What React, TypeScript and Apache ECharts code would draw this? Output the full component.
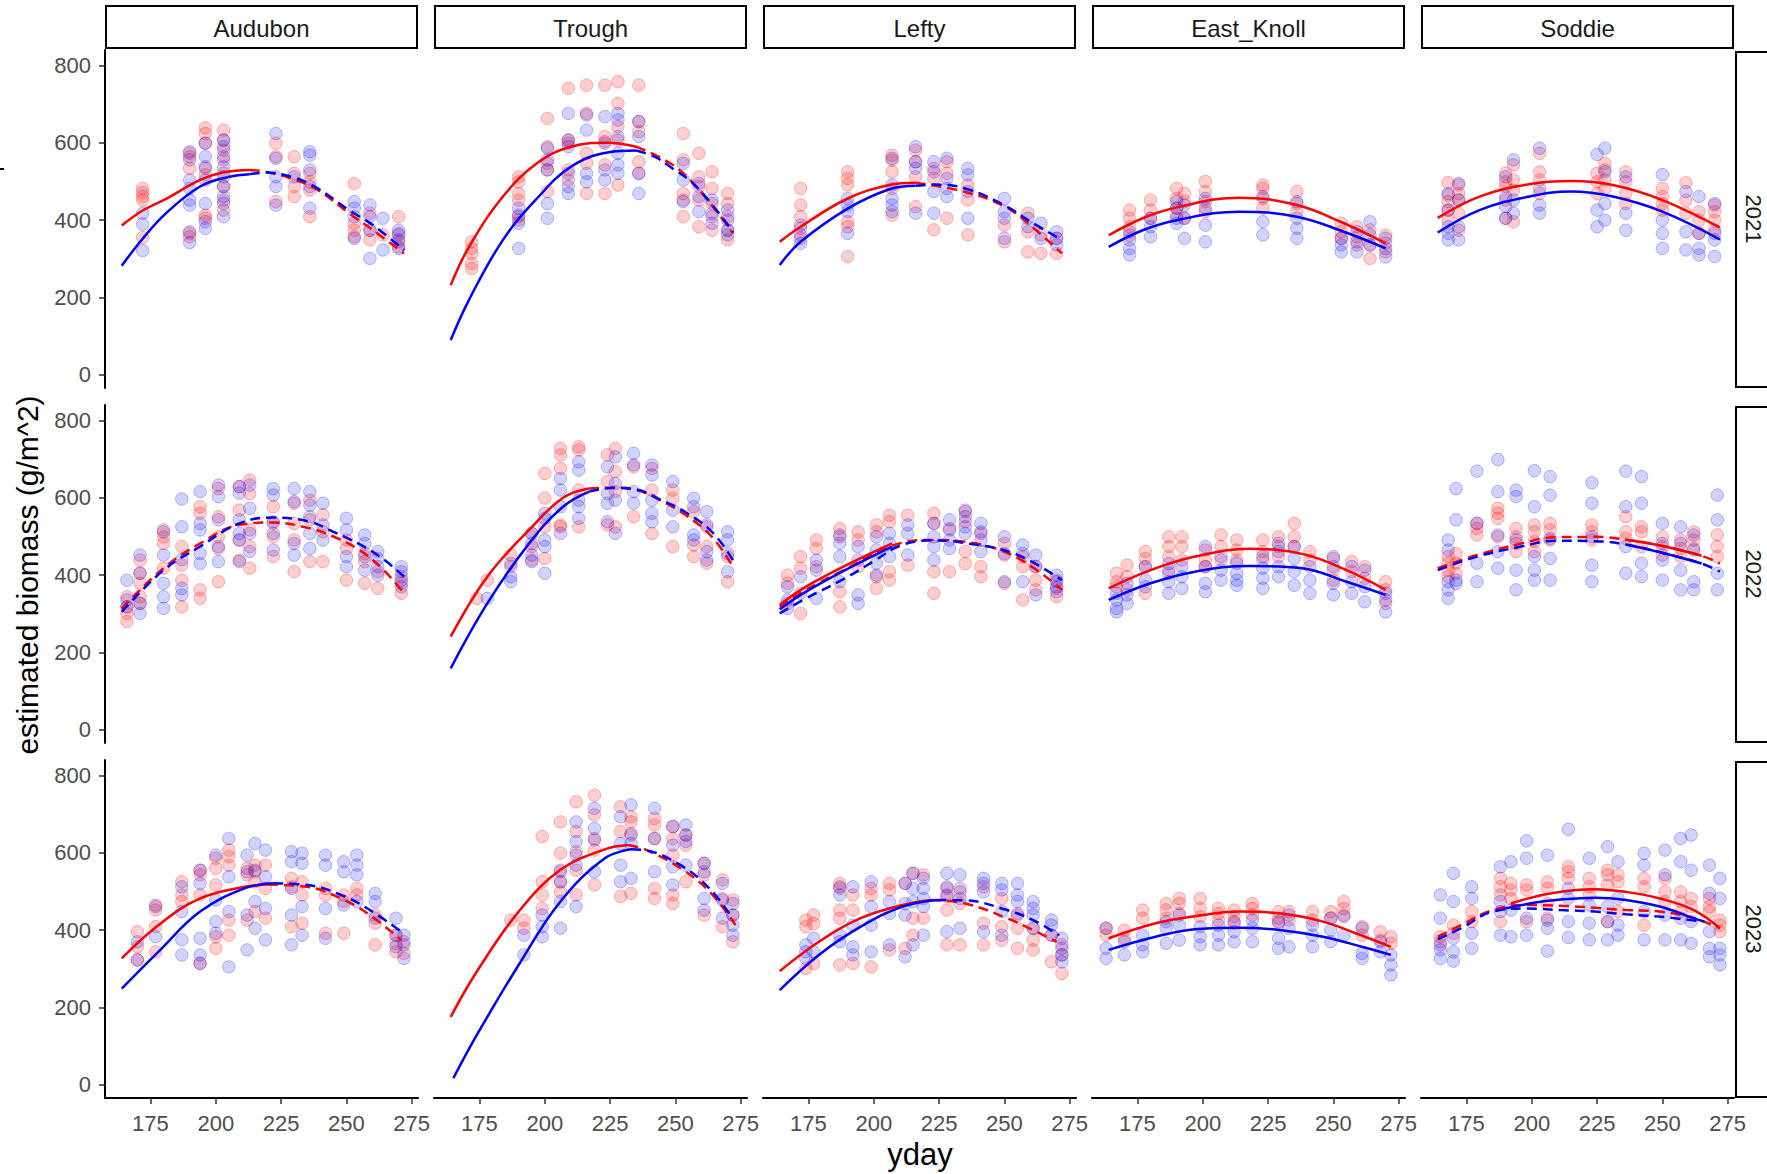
import React, { useEffect, useRef } from "react";
import * as echarts from "echarts";

// ---------------- DATA ----------------
const sites = ["Audubon", "Trough", "Lefty", "East_Knoll", "Soddie"];
const years = ["2021", "2022", "2023"];
const xTicks = [175, 200, 225, 250, 275];
const yTicks = [0, 200, 400, 600, 800];
const xTitle = "yday";
const yTitle = "estimated biomass (g/m^2)";

// points: [yday, [values...]]
const audubon2021Red = [[172,[482,471,461,452,355]],[190,[573,564,534,366,357]],[196,[639,624,599,534,517,413,405]],[203,[633,607,581,556,521,487,452,426]],[223,[599,564,448]],[230,[564,521,487,461]],[236,[521,499,478,409]],[253,[495,392,374,357]],[259,[418,374,349]],[264,[362]],[270,[409,366,344,331]]];
const audubon2021Blue = [[172,[418,390,321]],[190,[577,556,504,482,452,439,370,342]],[196,[599,564,538,504,443,396,379]],[203,[607,590,564,538,512,487,461,443,409]],[223,[624,560,512,487,439]],[230,[512]],[236,[577,568,530,487,431]],[253,[448,431,409,353]],[259,[439,409,374,301]],[264,[405,323]],[270,[374,362,349,327]]];
const audubon2021Lines = [
  ["red","dashed",[[213,530],[220,524],[230,505],[239,478],[251,418],[260,375],[272,314]]],
  ["red","solid",[[164,386],[172,425],[181,455],[194,504],[203,524],[213,530]]],
  ["blue","dashed",[[213,519],[219,523],[230,510],[239,482],[251,426],[260,388],[272,323]]],
  ["blue","solid",[[164,282],[172,352],[181,418],[194,487],[205,512],[213,519]]],
];

const trough2021Red = [[172,[344,327,314,288,275]],[190,[512,499,469,452,409,400]],[201,[663,590,547,530,474]],[209,[741,607,599,530,504]],[216,[749,676,573,547,469]],[223,[749,616,603,543,469]],[228,[758,702,642,607,491]],[236,[749,655,629,551,521]],[253,[624,556,469,452,409]],[259,[573,512,487,452,383]],[264,[525,482,443,409,374]],[270,[469,443,409,374,349]]];
const trough2021Blue = [[190,[431,413,392,327]],[201,[586,556,530,443,405]],[209,[676,607,590,521,487,469]],[216,[672,633,521,499]],[223,[668,599,530,504]],[228,[676,659,616,573,543,521]],[236,[655,616,521,469]],[253,[547,504,448]],[259,[495,461,422]],[264,[452,418,392]],[270,[426,400,374,362]]];
const trough2021Lines = [
  ["red","dashed",[[235,590],[248,547],[258,487],[272,366]]],
  ["red","solid",[[164,232],[171,331],[184,461],[197,547],[210,590],[224,600],[235,590]]],
  ["blue","dashed",[[235,580],[242,564],[248,538],[258,487],[272,370]]],
  ["blue","solid",[[164,90],[171,194],[184,349],[197,456],[210,538],[224,575],[235,580]]],
];

const lefty2021Red = [[172,[482,439,409,379,353]],[190,[525,508,491,396,383,306]],[207,[568,555,525,482,413]],[216,[581,551,512,435]],[223,[534,508,375]],[228,[551,521,405]],[236,[491,452,362]],[250,[387,344]],[259,[418,370,318]],[264,[362,314]],[270,[353,314]]];
const lefty2021Blue = [[172,[387,362,340]],[190,[456,439,422,366]],[207,[560,491,456,439,422]],[216,[590,551,534,418]],[223,[551,525,474,418]],[228,[560,508,482,461]],[236,[534,517,474,405]],[250,[456,422,405,353]],[259,[405,383]],[264,[392,353]],[270,[370,353,336]]];
const lefty2021Lines = [
  ["red","dashed",[[216,497],[235,473],[250,436],[259,392],[272,314]]],
  ["red","solid",[[164,344],[172,383],[190,456],[206,491],[216,497]]],
  ["blue","dashed",[[216,489],[223,492],[235,482],[251,435],[259,400],[271,353]]],
  ["blue","solid",[[164,284],[172,344],[190,430],[206,480],[216,489]]],
];

const eastKnoll2021Red = [[172,[426,405,383,361]],[180,[452,426,405]],[190,[482,456,431,413]],[193,[469,448,405]],[201,[500,474,448,422]],[223,[491,482,456,431]],[236,[474,443,422]],[253,[392,370,353]],[259,[383,357,336]],[264,[375,336,301]],[270,[361,340,318]]];
const eastKnoll2021Blue = [[172,[370,349,327,310]],[180,[405,383,357]],[190,[448,431,405,392]],[193,[439,405,353]],[201,[456,431,387,344]],[223,[461,396,362]],[236,[448,405,379,353]],[253,[353,336,318]],[259,[370,344,318]],[264,[396,362,336]],[270,[353,327,305]]];
const eastKnoll2021Lines = [
  ["red","solid",[[164,361],[177,405],[190,433],[214,458],[236,439],[254,392],[270,340]]],
  ["blue","solid",[[164,331],[177,374],[190,400],[214,422],[236,409],[254,370],[270,327]]],
];

const soddie2021Red = [[168,[497,465,448,426,400]],[172,[491,469,452,418,374]],[190,[521,499,487,452,405]],[193,[543,504,478,396]],[203,[573,525,504,469]],[225,[521,499,469]],[228,[547,530,504,482]],[236,[525,499,469,443]],[250,[482,461,443,426]],[259,[497,452,418]],[264,[422,400,366]],[270,[439,422,400,374]]];
const soddie2021Blue = [[168,[469,426,383,366,349]],[172,[495,452,383,349]],[190,[512,461,435,405]],[193,[556,452,418]],[203,[586,482,439,418]],[225,[570,426,383]],[228,[586,525,443,400]],[236,[512,418,374]],[250,[518,400,366,327]],[259,[474,370,323]],[264,[461,366,327,310]],[270,[443,366,349,306]]];
const soddie2021Lines = [
  ["red","solid",[[164,406],[180,461],[199,493],[215,501],[231,491],[250,452],[272,381]]],
  ["blue","solid",[[164,368],[180,426],[199,461],[215,474],[231,461],[250,422],[272,350]]],
];

const audubon2022Red = [[166,[344,318,301,280]],[171,[439,405,379,344,327]],[180,[517,499,482,418]],[187,[474,426,387,318]],[194,[577,560,362,340]],[201,[624,551,499,469,383]],[209,[629,568,491,439]],[213,[646,611,517,474,418]],[222,[577,534,499,448]],[230,[586,534,491,409]],[236,[594,543,435]],[241,[556,512,435]],[250,[491,469,387]],[257,[456,435,379]],[262,[409,366]],[271,[396,379,353]]];
const audubon2022Blue = [[166,[387,336,318]],[171,[452,405,327,301]],[180,[512,452,379,344,314]],[187,[597,525,440,366,349]],[194,[616,534,517,456,430]],[201,[633,603,543,474,435]],[209,[629,612,543,508,491,435]],[213,[633,573,508,461]],[222,[624,607,538,508,465]],[230,[624,590,482,452]],[236,[616,581,551,508,469]],[241,[586,530,491]],[250,[547,517,448,422]],[257,[504,482,448,413]],[262,[461,443,422,400]],[271,[422,409,387,370]]];
const audubon2022Lines = [
  ["red","dashed",[[164,314],[180,418],[194,482],[209,530],[222,536],[236,521],[245,500],[255,465],[264,415],[272,353]]],
  ["blue","dashed",[[164,305],[180,413],[194,474],[209,534],[222,549],[236,538],[245,512],[255,480],[264,442],[272,396]]],
];

const trough2022Red = [[174,[340]],[178,[387]],[187,[452,422]],[195,[508,474,439]],[200,[663,599,525,443]],[206,[728,711,676,530,525]],[213,[732,724,620,525]],[224,[711,642,530]],[227,[728,668,616,525]],[234,[680,551]],[241,[676,620,508]],[249,[620,599,474]],[257,[564,478,448]],[262,[525,474,431]],[270,[448,383]]];
const trough2022Blue = [[178,[340]],[187,[430,396,383]],[195,[508,482,452,435]],[200,[560,547,491,474,405]],[206,[650,620,577,508]],[213,[693,672,594,577,547]],[224,[680,611,586,538]],[227,[706,637,594,508]],[234,[715,685,616,586]],[241,[685,659,594,560,538]],[249,[642,568,525]],[257,[599,577,504,491]],[262,[564,530,461,439]],[270,[512,491,456,409]]];
const trough2022Lines = [
  ["red","dashed",[[217,624],[225,626],[235,620],[244,594],[254,555],[264,499],[272,422]]],
  ["red","solid",[[164,241],[178,396],[194,517],[207,600],[217,624]]],
  ["blue","dashed",[[217,616],[227,626],[235,622],[244,596],[254,562],[264,512],[272,439]]],
  ["blue","solid",[[164,159],[178,327],[194,482],[207,577],[217,616]]],
];

const lefty2022Red = [[167,[400,379,327]],[172,[448,418,301]],[178,[491,469,422]],[187,[521,499,357,318]],[194,[512,491,422]],[201,[530,512,396,366]],[206,[555,538,409,387]],[213,[555,426]],[223,[560,534,409,353]],[229,[521,409]],[235,[564,538,461,430]],[241,[508,422,396]],[250,[482,452,379]],[257,[448,422,336]],[262,[422,387,362]],[270,[387,366,344]]];
const lefty2022Blue = [[167,[370,336,314]],[172,[396,353]],[178,[439,413,340]],[187,[504,482,448,383]],[194,[474,439,349,327]],[201,[499,465,431,400]],[206,[508,482,448]],[213,[530,508,452]],[223,[534,499,474,439]],[229,[543,517,491,469]],[235,[568,551,525,508]],[241,[534,512,491,461]],[250,[499,456,383]],[257,[478,456,383]],[262,[452,422,349]],[270,[400,383,370,357]]];
const lefty2022Lines = [
  ["red","dashed",[[164,318],[173,358],[189,415],[207,476],[222,491],[234,487],[254,448],[272,362]]],
  ["red","solid",[[164,323],[173,366],[189,424],[207,482]]],
  ["blue","dashed",[[164,301],[173,336],[189,392],[200,436],[210,476],[222,490],[234,484],[254,455],[272,387]]],
  ["blue","solid",[[164,312],[173,353],[189,413],[207,474]]],
];

const eastKnoll2022Red = [[167,[405,383,370]],[171,[426,396,362]],[178,[461,443,422,353]],[187,[499,474,448,413]],[192,[499,474,439]],[201,[465,439,422]],[207,[504,474,439]],[213,[491,465,439]],[223,[491,461,439]],[229,[499,474,448]],[235,[534,499,474]],[241,[461,439]],[250,[443,413,387]],[257,[435,409]],[262,[422,392]],[270,[383,362,327]]];
const eastKnoll2022Blue = [[167,[353,336,314,305]],[171,[379,349,327]],[178,[422,387,370]],[187,[430,405,383,353]],[192,[422,396,366]],[201,[474,422,379,357]],[207,[448,413,387]],[213,[431,405,387,374]],[223,[448,418,392,366]],[229,[482,461,422,396]],[235,[474,443,409,374]],[241,[422,387,353]],[250,[448,422,379,349]],[257,[422,383,353]],[262,[413,370,331]],[270,[353,336,305]]];
const eastKnoll2022Lines = [
  ["red","solid",[[164,366],[180,413],[197,448],[218,468],[238,455],[255,413],[270,362]]],
  ["blue","solid",[[164,336],[180,379],[197,409],[218,424],[238,418],[255,383],[270,349]]],
];

const soddie2022Red = [[168,[448,431,413,396]],[171,[456,431,405]],[179,[534,521,504]],[187,[573,560,547,499]],[194,[521,499,482,461]],[201,[530,512,487,461]],[207,[534,517,491]],[223,[530,512,491]],[236,[551,512,495]],[242,[525,512,474]],[250,[499,474,452]],[257,[491,469,448]],[262,[512,491,469]],[271,[504,474,448]]];
const soddie2022Blue = [[168,[491,465,383,362,340]],[171,[624,543,387,379]],[179,[669,534,431,383]],[187,[699,616,504,461,418]],[194,[620,603,491,413,362]],[201,[670,577,448,413,387]],[207,[655,607,495,443,387]],[223,[639,586,499,426,383]],[236,[669,577,474,405]],[242,[655,586,431,396]],[250,[534,482,439,387]],[257,[525,482,413,362]],[262,[504,465,383,362]],[271,[607,543,405,362]]];
const soddie2022Lines = [
  ["red","dashed",[[164,418],[179,452],[196,482],[209,498],[224,499],[237,491],[251,474],[265,450],[272,430]]],
  ["red","solid",[[237,491],[251,474],[265,450]]],
  ["blue","dashed",[[164,413],[179,448],[196,474],[209,489],[224,488],[237,478],[251,456],[265,430],[272,409]]],
  ["blue","solid",[[237,478],[251,456],[265,430]]],
];

const audubon2023Red = [[170,[396,357,323]],[177,[465,452,409,344]],[187,[525,491,474]],[194,[555,543,491,314]],[200,[586,560,517,383,353]],[205,[607,590,568,426,387]],[212,[560,543,426]],[215,[568,551,525,448]],[219,[568,508,431]],[229,[534,512,409]],[233,[525,491,418]],[242,[508,491,392]],[249,[491,474,392]],[254,[508,491]],[261,[439,418,362]],[269,[387,366,344]],[272,[370,340]]];
const audubon2023Blue = [[170,[370,323]],[177,[461,383]],[187,[512,448,375,336]],[194,[555,521,379,336,314]],[200,[594,478,422,392]],[205,[637,538,448,305]],[212,[594,551,439,349]],[215,[624,555,474,405]],[219,[607,538,456,375]],[229,[603,577,508,439,362]],[233,[599,573,461,387]],[242,[594,568,456,379]],[249,[577,551,465]],[254,[594,568,543,474]],[261,[495,474,431]],[269,[431,387,357]],[272,[387,362,327]]];
const audubon2023Lines = [
  ["red","dashed",[[220,518],[235,512],[248,482],[259,439],[271,374]]],
  ["red","solid",[[164,327],[178,413],[194,482],[211,512],[220,518]]],
  ["blue","dashed",[[222,521],[235,517],[248,491],[259,452],[271,396]]],
  ["blue","solid",[[164,249],[178,344],[194,448],[211,508],[222,521]]],
];

const trough2023Red = [[187,[426]],[192,[426,405]],[199,[642,525,491,456]],[206,[680,599,551,525,499]],[212,[732,655,603,555,491]],[219,[749,698,637,607,517]],[229,[719,655,487]],[233,[693,680,650,495]],[242,[689,672,637,508,482]],[249,[668,637,594,491,469]],[254,[646,620,525]],[261,[573,543,439]],[268,[530,482,409]],[272,[478,439,370]]];
const trough2023Blue = [[192,[387,336]],[199,[439,409,383]],[206,[555,525,474,405]],[212,[680,629,594,568,461]],[219,[715,663,633,551]],[229,[693,624,568,525]],[233,[724,646,624,534]],[242,[715,637,551]],[249,[668,620,564,517]],[254,[672,646,629,568]],[261,[573,551,482,452]],[268,[521,478,431]],[272,[469,439,413,387]]];
const trough2023Lines = [
  ["red","dashed",[[232,620],[239,607],[252,560],[263,500],[273,413]]],
  ["red","solid",[[164,176],[174,293],[190,448],[206,556],[223,609],[232,620]]],
  ["blue","dashed",[[233,609],[238,607],[252,568],[263,508],[272,430]]],
  ["blue","solid",[[165,17],[174,129],[190,310],[206,474],[223,586],[233,609]]],
];

const lefty2023Red = [[174,[426,409,301]],[177,[439,417,314]],[187,[521,508,452,431,310]],[192,[491,452,314]],[199,[508,491,305]],[206,[521,504,349]],[212,[521,353]],[215,[547,431,387]],[219,[543,431]],[228,[508,487,452,362]],[233,[499,469,362]],[242,[512,418,362]],[249,[482,409,374]],[255,[443,405,353]],[261,[405,374,349]],[268,[387,318]],[272,[362,336,288]]];
const lefty2023Blue = [[174,[362,344,327]],[177,[379,344]],[187,[512,491,387,370]],[192,[512,413,357,336]],[199,[525,461,413,344]],[206,[474,443,362]],[212,[521,469,439,331]],[215,[547,508,474,362]],[219,[534,508,482,461,387]],[228,[547,512,491,396]],[233,[543,508,482,405]],[242,[534,521,499,396]],[249,[521,504,448,387]],[255,[521,491,474,439]],[261,[474,456,439,405]],[268,[426,413,387]],[272,[379,353,336,318]]];
const lefty2023Lines = [
  ["red","dashed",[[222,478],[235,469],[251,431],[261,400],[270,370]]],
  ["red","solid",[[164,294],[179,370],[195,431],[211,465],[222,478]]],
  ["blue","dashed",[[224,478],[235,477],[251,452],[261,426],[271,387]]],
  ["blue","solid",[[164,245],[179,336],[195,409],[211,461],[224,478]]],
];

const eastKnoll2023Red = [[163,[405,387]],[170,[400,379]],[177,[452,431]],[186,[469,452,431]],[191,[482,469,443]],[199,[482,456,435]],[206,[456,443,426]],[212,[452,435,418]],[219,[469,456,439]],[229,[448,431,418]],[233,[448,426]],[242,[448,426]],[249,[448,431]],[254,[474,456,439]],[261,[409,387]],[268,[396,374]],[272,[383,366]]];
const eastKnoll2023Blue = [[163,[405,353,327]],[170,[370,336]],[177,[387,362,344]],[186,[422,405,366]],[191,[439,413,374]],[199,[409,383,362]],[206,[413,387,362]],[212,[422,396,370]],[219,[426,405,370]],[229,[422,379,353]],[233,[439,405,357]],[242,[413,387,357]],[249,[431,400,370]],[254,[435,387]],[261,[405,340,327]],[268,[370,344]],[272,[336,310,284]]];
const eastKnoll2023Lines = [
  ["red","solid",[[164,379],[182,418],[198,437],[214,448],[230,443],[246,422],[262,383],[272,357]]],
  ["blue","solid",[[164,349],[182,383],[198,403],[214,406],[230,400],[246,383],[262,355],[272,336]]],
];

const soddie2023Red = [[165,[383,370]],[170,[413,392]],[177,[448,422]],[188,[534,512,491,422]],[192,[521,504,482]],[198,[517,504,422]],[206,[525,508,469,431]],[214,[564,551,534]],[222,[534,512,491]],[229,[555,543,517,422]],[233,[543,525,448]],[243,[534,512,413]],[251,[534,499,474]],[257,[499,474,448]],[261,[482,461]],[268,[482,461,448]],[272,[426,413,396]]];
const soddie2023Blue = [[165,[491,431,362,349,327]],[170,[547,474,379,344,320]],[177,[512,482,392,353]],[188,[564,474,448,387]],[192,[577,452,383]],[198,[631,586,431,387]],[206,[594,426,405,346]],[214,[661,508,482,422,381]],[222,[586,465,418,375]],[229,[616,461,422,375]],[233,[577,482,413,387]],[243,[599,568,448,375]],[251,[607,543,439,375]],[257,[637,577,431,375]],[261,[646,555,422,366]],[268,[568,495,396,353,331]],[272,[534,482,353,336,310]]];
const soddie2023Lines = [
  ["red","dashed",[[164,383],[173,413],[185,452],[198,465],[211,463],[224,458],[236,452],[249,448],[262,431],[272,405]]],
  ["red","solid",[[192,469],[204,491],[217,504],[224,506],[236,499],[249,482],[262,452],[272,405]]],
  ["blue","dashed",[[164,377],[173,405],[185,448],[198,456],[211,452],[224,448],[236,441],[249,435],[263,424]]],
  ["blue","solid",[[189,455],[204,474],[217,482],[224,484],[236,478],[249,461],[262,431],[266,422]]],
];

const panelData = [
  [audubon2021Red, audubon2021Blue, audubon2021Lines],
  [trough2021Red, trough2021Blue, trough2021Lines],
  [lefty2021Red, lefty2021Blue, lefty2021Lines],
  [eastKnoll2021Red, eastKnoll2021Blue, eastKnoll2021Lines],
  [soddie2021Red, soddie2021Blue, soddie2021Lines],
  [audubon2022Red, audubon2022Blue, audubon2022Lines],
  [trough2022Red, trough2022Blue, trough2022Lines],
  [lefty2022Red, lefty2022Blue, lefty2022Lines],
  [eastKnoll2022Red, eastKnoll2022Blue, eastKnoll2022Lines],
  [soddie2022Red, soddie2022Blue, soddie2022Lines],
  [audubon2023Red, audubon2023Blue, audubon2023Lines],
  [trough2023Red, trough2023Blue, trough2023Lines],
  [lefty2023Red, lefty2023Blue, lefty2023Lines],
  [eastKnoll2023Red, eastKnoll2023Blue, eastKnoll2023Lines],
  [soddie2023Red, soddie2023Blue, soddie2023Lines],
];

// ---------------- LAYOUT / STYLE ----------------
const W = 1767;
const H = 1174;
const panelLeft = [105, 434, 763, 1092, 1421];
const panelTop = [50, 405, 760];
const panelW = 313;
const panelH = 338;
const FONT = "'Liberation Sans', Arial, sans-serif";

const flatten = (cols: any[]) => {
  const out: number[][] = [];
  for (const [x, vs] of cols) for (const v of vs) out.push([x, v]);
  return out;
};

function buildOption() {
  const grid: any[] = [];
  const xAxis: any[] = [];
  const yAxis: any[] = [];
  const series: any[] = [];
  const graphic: any[] = [];

  for (let r = 0; r < 3; r++) {
    for (let c = 0; c < 5; c++) {
      const i = r * 5 + c;
      const bottom = r === 2;
      const left = c === 0;
      grid.push({ left: panelLeft[c], top: panelTop[r], width: panelW, height: panelH, containLabel: false });
      xAxis.push({
        type: "value", gridIndex: i, min: 157.6, max: 277.4,
        axisLine: { show: bottom, onZero: false, lineStyle: { color: "#000", width: 2 } },
        axisTick: { show: bottom, customValues: xTicks, length: 6, lineStyle: { color: "#333", width: 1.5 } },
        axisLabel: { show: bottom, customValues: xTicks, color: "#4d4d4d", fontSize: 22, fontFamily: FONT, margin: 14 },
        splitLine: { show: false },
      });
      yAxis.push({
        type: "value", gridIndex: i, min: -34, max: 840,
        axisLine: { show: left, onZero: false, lineStyle: { color: "#000", width: 2 } },
        axisTick: { show: left, customValues: yTicks, length: 6, lineStyle: { color: "#333", width: 1.5 } },
        axisLabel: { show: left, customValues: yTicks, color: "#4d4d4d", fontSize: 22, fontFamily: FONT, margin: 14 },
        splitLine: { show: false },
      });
      const [red, blue, lines] = panelData[i] as any;
      series.push({
        type: "scatter", xAxisIndex: i, yAxisIndex: i, data: flatten(red), symbol: "circle", symbolSize: 12.5, z: 2,
        itemStyle: { color: "rgba(255,0,0,0.24)", borderColor: "rgba(255,0,0,0.34)", borderWidth: 1 },
      });
      series.push({
        type: "scatter", xAxisIndex: i, yAxisIndex: i, data: flatten(blue), symbol: "circle", symbolSize: 12.5, z: 2,
        itemStyle: { color: "rgba(0,0,255,0.22)", borderColor: "rgba(0,0,255,0.32)", borderWidth: 1 },
      });
      for (const [col, style, pts] of lines) {
        series.push({
          type: "line", xAxisIndex: i, yAxisIndex: i, data: pts, smooth: 0.4, showSymbol: false, z: 3,
          lineStyle: { color: col === "red" ? "#ff0000" : "#0000ff", width: 2.5, type: style === "dashed" ? [10, 6] : "solid" },
        });
      }
    }
  }

  // top strips
  for (let c = 0; c < 5; c++) {
    graphic.push({ type: "rect", shape: { x: panelLeft[c] + 1, y: 6, width: panelW - 2, height: 42 }, style: { fill: "#fff", stroke: "#000", lineWidth: 2 } });
    graphic.push({ type: "text", x: panelLeft[c] + panelW / 2, y: 28, style: { text: sites[c], font: `24px ${FONT}`, fill: "#1a1a1a", textAlign: "center", textVerticalAlign: "middle" } });
  }
  // right strips
  for (let r = 0; r < 3; r++) {
    graphic.push({ type: "rect", shape: { x: 1736, y: panelTop[r] + 2, width: 60, height: panelH - 3 }, style: { fill: "#fff", stroke: "#000", lineWidth: 2 } });
    graphic.push({ type: "text", x: 1753, y: panelTop[r] + panelH / 2, rotation: -Math.PI / 2, style: { text: years[r], font: `22px ${FONT}`, fill: "#1a1a1a", textAlign: "center", textVerticalAlign: "middle" } });
  }
  // axis titles
  graphic.push({ type: "text", x: 920, y: 1154, style: { text: xTitle, font: `31px ${FONT}`, fill: "#000", textAlign: "center", textVerticalAlign: "middle" } });
  graphic.push({ type: "text", x: 27, y: 575, rotation: Math.PI / 2, style: { text: yTitle, font: `30px ${FONT}`, fill: "#000", textAlign: "center", textVerticalAlign: "middle" } });
  graphic.push({ type: "rect", shape: { x: 0, y: 168, width: 4, height: 2 }, style: { fill: "#000" } });

  return { animation: false, backgroundColor: "#fff", grid, xAxis, yAxis, series, graphic };
}

export default function App() {
  const ref = useRef<HTMLDivElement>(null);
  useEffect(() => {
    if (!ref.current) return;
    const chart = echarts.init(ref.current, undefined, { renderer: "svg" });
    chart.setOption(buildOption() as any);
    return () => chart.dispose();
  }, []);
  return <div ref={ref} style={{ position: "absolute", left: 0, top: 0, width: W, height: H, background: "#fff" }} />;
}
